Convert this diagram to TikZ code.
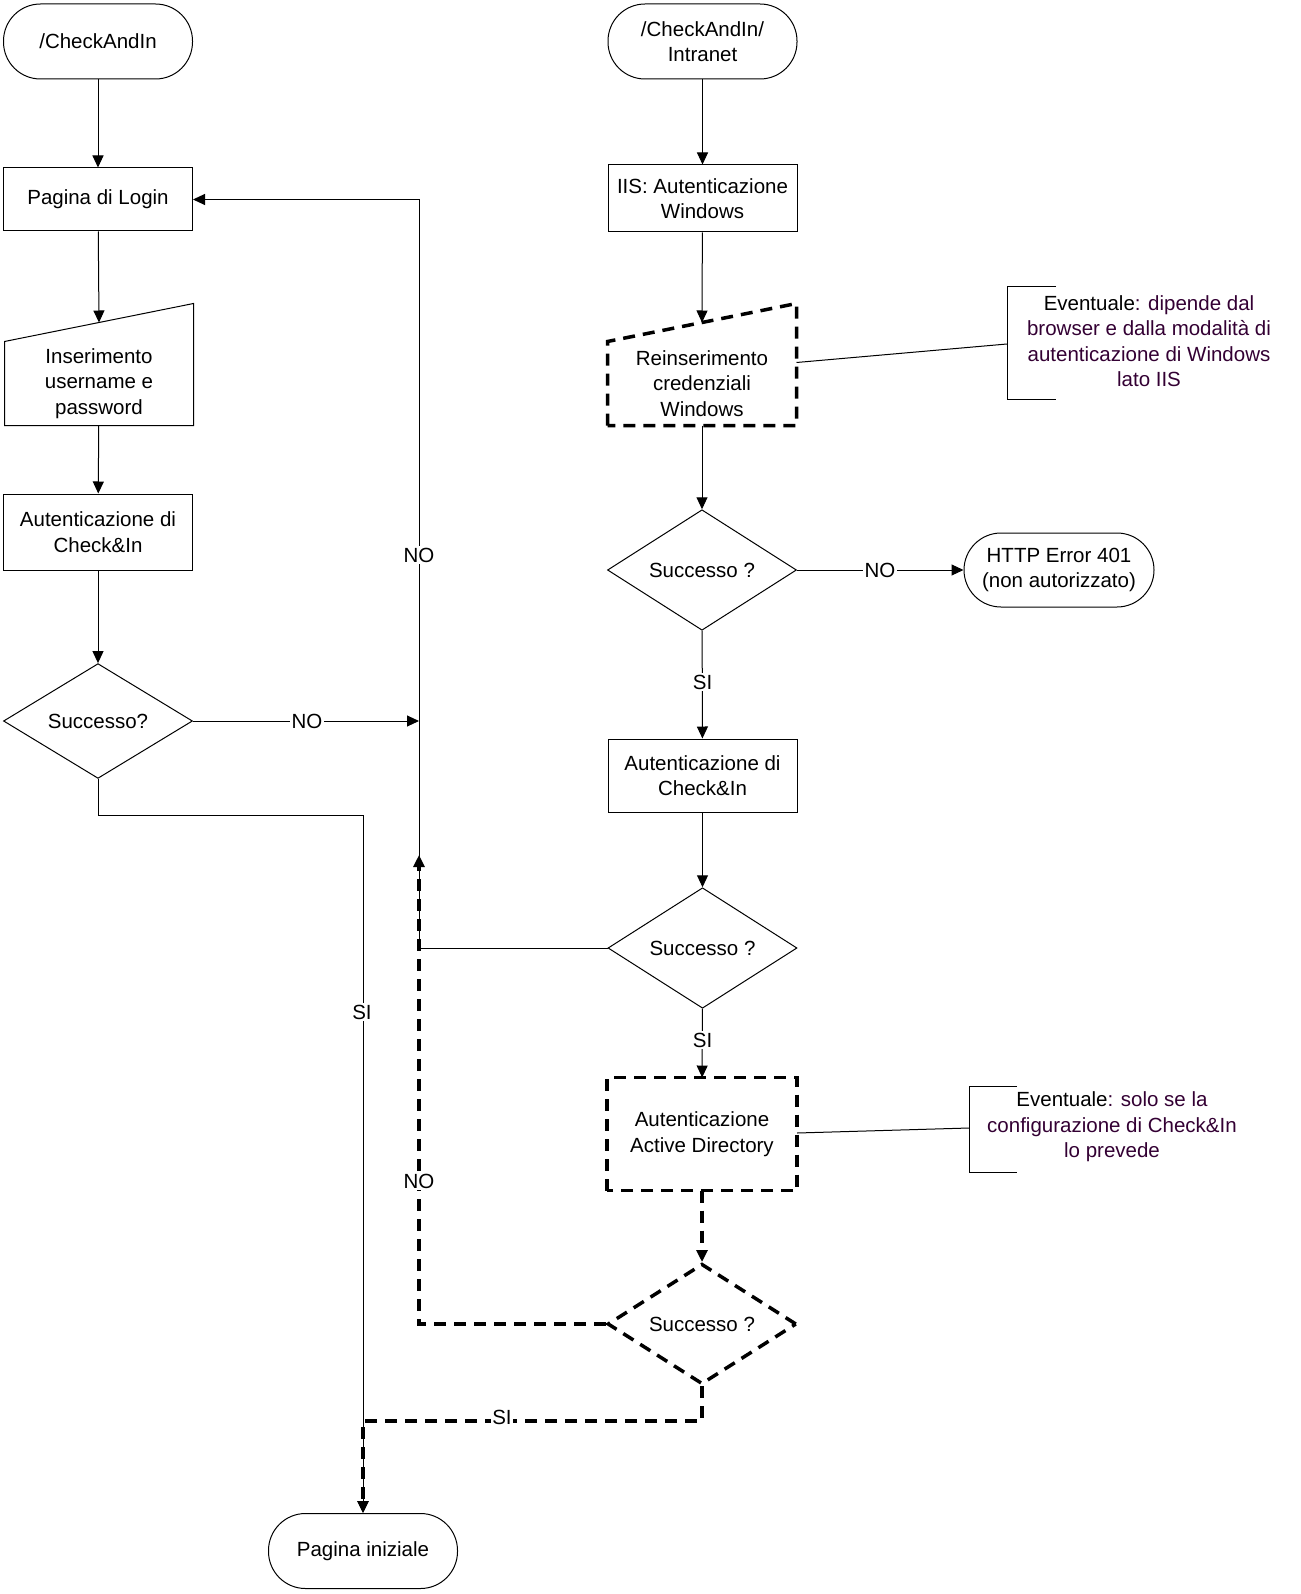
\documentclass[tikz,border=0pt]{standalone}
\usepackage{fontspec}
\setmainfont{Liberation Sans}
\usepackage{tikz}
\usetikzlibrary{arrows.meta}
\usetikzlibrary{shapes.geometric}
\definecolor{noteText}{RGB}{51,0,51}

\begin{document}
\begin{tikzpicture}[x=1pt, y=-1pt, inner sep=0pt, line width=1pt,
    font=\fontsize{20.5}{25.5}\selectfont, >={Triangle[length=12pt,width=11pt]}]
            \useasboundingbox (0,0) rectangle (1300,1594);

            \tikzstyle{myTerm}=[draw, rectangle, rounded corners=37pt, minimum width=189pt, minimum height=75pt, align=center];
            \tikzstyle{myBox}=[draw, rectangle, minimum width=189pt, align=center];
            \tikzstyle{myIn}=[rectangle, minimum width=188pt, minimum height=83pt, align=center];
            \tikzstyle{myDia}=[draw, diamond, minimum width=189pt, minimum height=112pt];
            \tikzstyle{myDash}=[line width=3.5pt, dash pattern=on 12pt off 8pt];
            \tikzstyle{myLbl}=[fill=white, inner sep=1.5pt];
            \tikzstyle{myNote}=[align=center, text=noteText];

            % colonna di sinistra
            \node[myTerm] (start) at (98,41.5) {/CheckAndIn};
            \node[myBox, minimum height=63pt] (login) at (98,199.5) {Pagina di Login};
            \node[myIn] (in1) at (99,383.5) {Inserimento\\username e\\password};
            \draw (in1.south west) -- (in1.north west) -- ([yshift=38pt]in1.north east) -- (in1.south east) -- cycle;
            \node[myBox, minimum height=76pt] (auth1) at (98,532) {Autenticazione di\\Check\&In};
            \node[myDia] (d1) at (98,721) {Successo?};
            \node[myTerm] (home) at (363,1551) {Pagina iniziale};

            % colonna di destra
            \node[myTerm] (start2) at (702.5,41.5) {/CheckAndIn/\\Intranet};
            \node[myBox, minimum height=67pt] (iis) at (702.5,198.5) {IIS: Autenticazione\\Windows};
            \node[myIn] (in2) at (702,383.5) {Reinserimento\\credenziali\\Windows};
            \draw[myDash] (in2.south west) -- (in2.north west) -- ([yshift=38pt]in2.north east) -- (in2.south east) -- cycle;
            \node[myDia] (d2) at (702,570) {Successo ?};
            \node[myTerm, minimum width=190pt, minimum height=74pt] (err) at (1059,570) {HTTP Error 401\\(non autorizzato)};
            \node[myBox, minimum height=73pt] (auth2) at (702.5,775.5) {Autenticazione di\\Check\&In};
            \node[myDia] (d3) at (702.5,948) {Successo ?};
            \node[myBox, draw=none, minimum height=112pt] (ad) at (702,1134) {Autenticazione\\Active Directory};
            \draw[myDash] (ad.south west) rectangle (ad.north east);
            \node[myDia, myDash] (d4) at (702,1324) {Successo ?};

            % note
            \node[myNote] (note1) at (1149,341) {{\color{black}Eventuale}: dipende dal\\browser e dalla modalità di\\autenticazione di Windows\\lato IIS};
            \draw (1056,287) -- (1007,287) -- (1007,399) -- (1056,399);
            \coordinate (n1) at (1007,344);
            \node[myNote] (note2) at (1112,1127) {{\color{black}Eventuale}: solo se la\\configurazione di Check\&In\\lo prevede};
            \draw (1017,1086) -- (969,1086) -- (969,1172) -- (1017,1172);
            \coordinate (n2) at (969,1128);

            \coordinate (jNo) at (419,721);
            \coordinate (jMid) at (419,948);
            \coordinate (jUp) at (419,855);

            % connettori
            \draw[->] (start) -- (login);
            \draw[->] (login) -- ([yshift=19pt]in1.north);
            \draw[->] (in1) -- (auth1);
            \draw[->] (auth1) -- (d1);
            \draw[->] (d1.east) -- (jNo);
            \draw[->] (d1.south) -- ++(0,37) -| (home.north);
            \draw[->] (d3.west) -- (jMid) |- (login.east);

            \draw[->] (start2) -- (iis);
            \draw[->] (iis) -- ([yshift=19pt]in2.north);
            \draw[->] (in2) -- (d2);
            \draw[->] (d2) -- (err);
            \draw[->] (d2) -- (auth2);
            \draw[->] (auth2) -- (d3);
            \draw[->] (d3) -- (ad);
            \draw[->, myDash] (ad) -- (d4);
            \draw[->, myDash] (d4.west) -| (jUp);
            \draw[->, myDash] (d4.south) -- ++(0,35) -| (home.north);

            \draw ([yshift=21pt]in2.east) -- (n1);
            \draw ([yshift=1pt]ad.east) -- (n2);

            % etichette
            \node[myLbl] (l1) at (307,721) {NO};
            \node[myLbl] (l2) at (419,555) {NO};
            \node[myLbl] (l3) at (362,1012) {SI};
            \node[myLbl] (l4) at (880,570) {NO};
            \node[myLbl] (l5) at (702.5,682) {SI};
            \node[myLbl] (l6) at (702.5,1040) {SI};
            \node[myLbl] (l7) at (419,1181) {NO};
            \node[myLbl] (l8) at (502,1417) {SI};
         \end{tikzpicture}
\end{document}
